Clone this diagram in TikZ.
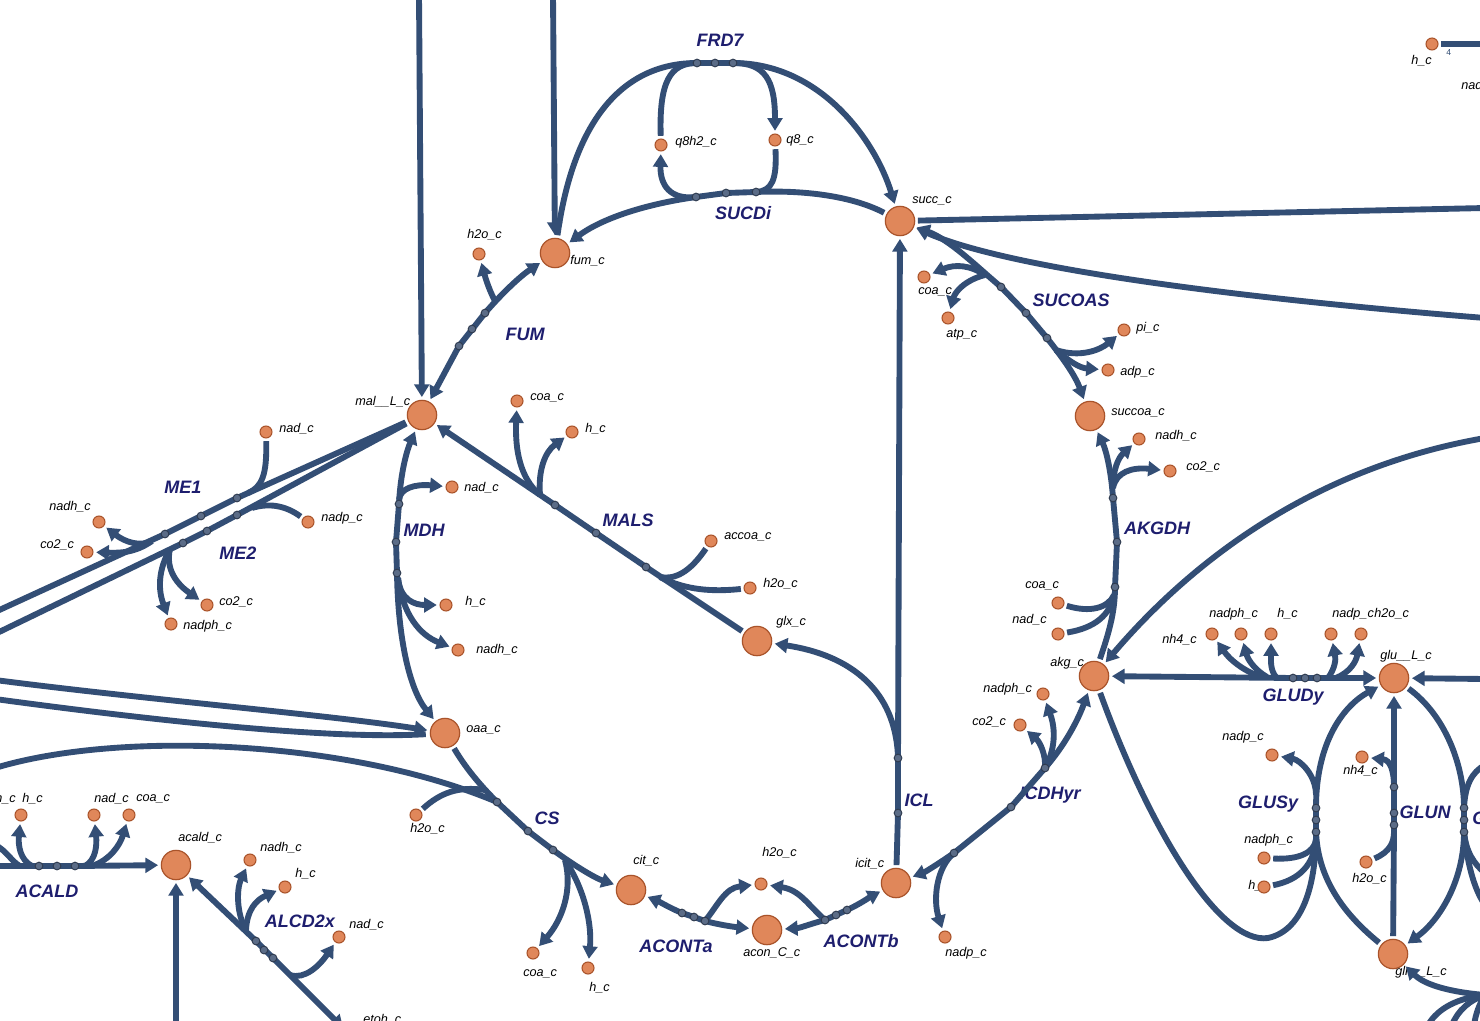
\documentclass[tikz,border=0pt]{standalone}
\usepackage{fontspec}
\setmainfont{Liberation Sans}
\usetikzlibrary{arrows.meta}
\definecolor{ln}{HTML}{334E75}
\definecolor{mf}{HTML}{E0875A}
\definecolor{md}{HTML}{A9532A}
\definecolor{rc}{HTML}{1E1E6E}
\definecolor{mkf}{HTML}{5B6C87}
\definecolor{mkd}{HTML}{2E3A4E}
\pgfdeclarelayer{labs}
\pgfdeclarelayer{lines}
\pgfsetlayers{labs,lines,main}
\begin{document}
\begin{tikzpicture}[x=0.75pt,y=-0.75pt,
  met/.style={circle,fill=mf,draw=md,line width=0.9pt,minimum size=22pt,inner sep=0pt},
  sm/.style={circle,fill=mf,draw=md,line width=0.8pt,minimum size=9pt,inner sep=0pt},
  mk/.style={circle,fill=mkf,draw=mkd,line width=0.7pt,minimum size=5.8pt,inner sep=0pt},
  ml/.style={font=\itshape\fontsize{9.5}{10}\selectfont,anchor=west,inner sep=0pt},
  rl/.style={font=\bfseries\itshape\fontsize{13.5}{14}\selectfont,text=rc,inner sep=0pt},
  rx/.style={draw=ln,line width=4.4pt},
  ar/.style={-{Triangle[length=9.5pt,width=11pt]},shorten >=2pt},
  rs/.style={shorten <=2pt}]
\useasboundingbox (0,0) rectangle (1480,1020);
% ---------------- metabolites ----------------
\node[met] (fum) at (555,253) {};
\node[met] (succ) at (900,221) {};
\node[met] (mal) at (422,415) {};
\node[met] (glx) at (757,641) {};
\node[met] (oaa) at (445,733) {};
\node[met] (cit) at (631,890) {};
\node[met] (acon) at (767,930) {};
\node[met] (icit) at (896,883) {};
\node[met] (akg) at (1094,676) {};
\node[met] (succoa) at (1090,416) {};
\node[met] (glu) at (1394,678) {};
\node[met] (gln) at (1393,954) {};
\node[met] (acald) at (176,865) {};
\node[sm] (h2oA) at (479,254) {};
\node[sm] (q8h2) at (661,145) {};
\node[sm] (q8) at (775,140) {};
\node[sm] (coaS) at (924,277) {};
\node[sm] (atp) at (948,318) {};
\node[sm] (pi) at (1124,330) {};
\node[sm] (adp) at (1108,370) {};
\node[sm] (nadhK) at (1139,439) {};
\node[sm] (co2K) at (1170,471) {};
\node[sm] (coaK) at (1058,603) {};
\node[sm] (nadK) at (1058,634) {};
\node[sm] (nadphI) at (1043,694) {};
\node[sm] (co2I) at (1020,725) {};
\node[sm] (nadpI) at (945,937) {};
\node[sm] (h2oB) at (761,884) {};
\node[sm] (coaC) at (533,953) {};
\node[sm] (hC) at (588,968) {};
\node[sm] (h2oC) at (416,815) {};
\node[sm] (coaM) at (517,401) {};
\node[sm] (hM) at (572,432) {};
\node[sm] (accoa) at (711,541) {};
\node[sm] (h2oM) at (750,588) {};
\node[sm] (nadD) at (452,487) {};
\node[sm] (hD) at (446,605) {};
\node[sm] (nadhD) at (458,650) {};
\node[sm] (nadE) at (266,432) {};
\node[sm] (nadhE) at (99,522) {};
\node[sm] (co2E) at (87,552) {};
\node[sm] (nadpE) at (308,522) {};
\node[sm] (co2F) at (207,605) {};
\node[sm] (nadphF) at (171,624) {};
\node[sm] (nh4G) at (1212,634) {};
\node[sm] (nadphG) at (1241,634) {};
\node[sm] (hG) at (1271,634) {};
\node[sm] (nadpG) at (1331,634) {};
\node[sm] (h2oG) at (1361,634) {};
\node[sm] (nadpS) at (1272,755) {};
\node[sm] (nadphS) at (1264,858) {};
\node[sm] (hS) at (1264,887) {};
\node[sm] (nh4N) at (1362,757) {};
\node[sm] (h2oN) at (1366,862) {};
\node[sm] (hA) at (21,815) {};
\node[sm] (nadA) at (94,815) {};
\node[sm] (coaA) at (129,815) {};
\node[sm] (nadhL) at (250,860) {};
\node[sm] (hL) at (285,887) {};
\node[sm] (nadL) at (339,937) {};
\node[sm] (hTR) at (1432,44) {};
% ---------------- markers ----------------
\node[mk] (f1) at (697,63) {}; \node[mk] (f2) at (715,63) {}; \node[mk] (f3) at (733,63) {};
\node[mk] (s1) at (696,197) {}; \node[mk] (s2) at (726,193) {}; \node[mk] (s3) at (756,192) {};
\node[mk] (fu1) at (459,346) {}; \node[mk] (fu2) at (472,329) {}; \node[mk] (fu3) at (485,313) {};
\node[mk] (u1) at (1001,287) {}; \node[mk] (u2) at (1026,313) {}; \node[mk] (u3) at (1047,338) {};
\node[mk] (k1) at (1113,498) {}; \node[mk] (k2) at (1117,542) {}; \node[mk] (k3) at (1115,587) {};
\node[mk] (d1) at (954,853) {}; \node[mk] (d2) at (1011,807) {}; \node[mk] (d3) at (1045,768) {};
\node[mk] (i1) at (898,758) {}; \node[mk] (i2) at (898,813) {};
\node[mk] (gd1) at (1293,678) {}; \node[mk] (gd2) at (1305,678) {}; \node[mk] (gd3) at (1317,678) {};
\node[mk] (ss1) at (1316,808) {}; \node[mk] (ss2) at (1316,820) {}; \node[mk] (ss3) at (1316,832) {};
\node[mk] (n1) at (1394,787) {}; \node[mk] (n2) at (1394,813) {}; \node[mk] (n3) at (1394,825) {};
\node[mk] (q1) at (1464,808) {}; \node[mk] (q2) at (1464,820) {}; \node[mk] (q3) at (1464,832) {};
\node[mk] (a1) at (682,913) {}; \node[mk] (a2) at (694,917) {}; \node[mk] (a3) at (705,921) {};
\node[mk] (b1) at (825,920) {}; \node[mk] (b2) at (836,915) {}; \node[mk] (b3) at (847,910) {};
\node[mk] (c1) at (497,802) {}; \node[mk] (c2) at (528,831) {}; \node[mk] (c3) at (553,850) {};
\node[mk] (ma1) at (555,505) {}; \node[mk] (ma2) at (596,533) {}; \node[mk] (ma3) at (646,567) {};
\node[mk] (md1) at (399,504) {}; \node[mk] (md2) at (396,542) {}; \node[mk] (md3) at (397,573) {};
\node[mk] (e1) at (237,498) {}; \node[mk] (e2) at (201,516) {}; \node[mk] (e3) at (165,534) {};
\node[mk] (g1) at (237,515) {}; \node[mk] (g2) at (207,531) {}; \node[mk] (g3) at (183,543) {};
\node[mk] (ac1) at (39,866) {}; \node[mk] (ac2) at (57,866) {}; \node[mk] (ac3) at (75,866) {};
\node[mk] (l1) at (256,941) {}; \node[mk] (l2) at (264,950) {}; \node[mk] (l3) at (273,958) {};
% ---------------- free ends and junctions ----------------
\coordinate (T1) at (419,-5); \coordinate (T2) at (553,-5);
\coordinate (W1) at (-5,612); \coordinate (W2) at (-5,634);
\coordinate (W3) at (-5,680); \coordinate (W4) at (-5,699);
\coordinate (W5) at (-5,768); \coordinate (W6) at (-5,866); \coordinate (W7) at (-5,845);
\coordinate (E1) at (1485,438); \coordinate (E2) at (1485,208); \coordinate (E3) at (1485,318);
\coordinate (E4) at (1485,679); \coordinate (E5) at (1485,765); \coordinate (E6) at (1485,873);
\coordinate (E7) at (1485,905); \coordinate (E8) at (1485,995); \coordinate (E9) at (1485,44);
\coordinate (B1) at (1428,1025); \coordinate (B2) at (1452,1025); \coordinate (B5) at (1474,1025);
\coordinate (B3) at (176,1025); \coordinate (B4) at (345,1030);
\coordinate (jF) at (496,303);
\coordinate (jM1) at (540,495); \coordinate (jM2) at (660,577);
\coordinate (jD1) at (399,500); \coordinate (jD2) at (398,578);
\coordinate (jE1) at (248,493); \coordinate (jE2) at (152,541);
\coordinate (jG1) at (252,508); \coordinate (jG2) at (170,549);
\coordinate (jC1) at (485,790); \coordinate (jC2) at (565,860);
\coordinate (jK1) at (1114,595); \coordinate (jK2) at (1113,488);
\coordinate (jU1) at (985,275); \coordinate (jU2) at (1056,350);
\coordinate (jG3) at (1262,677); \coordinate (jG3b) at (1267,677); \coordinate (jG3c) at (1276,677);
\coordinate (jG4) at (1328,678); \coordinate (jG4b) at (1336,678);
\coordinate (jS0) at (1268,938); \coordinate (jS1) at (1316,795); \coordinate (jS2) at (1316,840);
\coordinate (jN1) at (1394,832);
\coordinate (jA0) at (20,866); \coordinate (jA1) at (32,866); \coordinate (jA2) at (85,866); \coordinate (jA3) at (92,866);
\coordinate (jL1) at (246,930); \coordinate (jL2) at (290,975);
% ---------------- labels ----------------
\begin{pgfonlayer}{labs}
\fill[white] (0,0) rectangle (1480,1020);
\node[rl] (rFRD) at (720,40) {FRD7};
\node[rl] (rSUCD) at (743,213) {SUCDi};
\node[rl] (rFUM) at (525,334) {FUM};
\node[rl] (rSUCOAS) at (1071,300) {SUCOAS};
\node[rl] (rAKGDH) at (1157,528) {AKGDH};
\node[rl] (rME1) at (183,487) {ME1};
\node[rl] (rME2) at (238,553) {ME2};
\node[rl] (rMDH) at (424,530) {MDH};
\node[rl] (rMALS) at (628,520) {MALS};
\node[rl] (rCS) at (547,818) {CS};
\node[rl] (rACa) at (676,946) {ACONTa};
\node[rl] (rACb) at (861,941) {ACONTb};
\node[rl] (rICL) at (919,800) {ICL};
\node[rl] (rICD) at (1050,795) {ICDHyr};
\node[rl] (rGLUDy) at (1293,697) {GLUDy};
\node[rl] (rGLUSy) at (1268,804) {GLUSy};
\node[rl] (rGLUN) at (1425,812) {GLUN};
\node[rl,anchor=west] (rGLNS) at (1472,818) {GLNS};
\node[rl] (rACALD) at (47,891) {ACALD};
\node[rl] (rALCD) at (300,921) {ALCD2x};
\node[ml] (t1) at (570,261) {fum\_c};
\node[ml] (t2) at (912,201) {succ\_c};
\node[ml] (t3) at (355,402) {mal\_\_L\_c};
\node[ml] (t4) at (467,235) {h2o\_c};
\node[ml] (t5) at (675,142) {q8h2\_c};
\node[ml] (t6) at (786,140) {q8\_c};
\node[ml] (t7) at (918,292) {coa\_c};
\node[ml] (t8) at (946,335) {atp\_c};
\node[ml] (t9) at (1136,328) {pi\_c};
\node[ml] (t10) at (1120,372) {adp\_c};
\node[ml] (t11) at (1111,413) {succoa\_c};
\node[ml] (t12) at (1155,436) {nadh\_c};
\node[ml] (t13) at (1186,467) {co2\_c};
\node[ml] (t14) at (1025,586) {coa\_c};
\node[ml] (t15) at (1012,620) {nad\_c};
\node[ml] (t16) at (1050,663) {akg\_c};
\node[ml] (t17) at (983,689) {nadph\_c};
\node[ml] (t18) at (972,722) {co2\_c};
\node[ml] (t19) at (945,953) {nadp\_c};
\node[ml] (t20) at (1162,640) {nh4\_c};
\node[ml] (t21) at (1209,614) {nadph\_c};
\node[ml] (t22) at (1277,614) {h\_c};
\node[ml] (t23) at (1332,614) {nadp\_c};
\node[ml] (t23b) at (t23.east) {h2o\_c};
\node[ml] (t24) at (1380,656) {glu\_\_L\_c};
\node[ml] (t25) at (1222,737) {nadp\_c};
\node[ml] (t26) at (1244,840) {nadph\_c};
\node[ml] (t27) at (1248,886) {h\_c};
\node[ml] (t28) at (1395,972) {gln\_\_L\_c};
\node[ml] (t29) at (1343,771) {nh4\_c};
\node[ml] (t30) at (1352,879) {h2o\_c};
\node[ml] (t31) at (855,864) {icit\_c};
\node[ml] (t32) at (762,853) {h2o\_c};
\node[ml] (t33) at (743,953) {acon\_C\_c};
\node[ml] (t34) at (633,861) {cit\_c};
\node[ml] (t35) at (523,974) {coa\_c};
\node[ml] (t36) at (589,988) {h\_c};
\node[ml] (t37) at (410,829) {h2o\_c};
\node[ml] (t38) at (466,730) {oaa\_c};
\node[ml] (t39) at (776,622) {glx\_c};
\node[ml] (t40) at (530,398) {coa\_c};
\node[ml] (t41) at (585,429) {h\_c};
\node[ml] (t42) at (724,537) {accoa\_c};
\node[ml] (t43) at (763,584) {h2o\_c};
\node[ml] (t44) at (464,488) {nad\_c};
\node[ml] (t45) at (465,602) {h\_c};
\node[ml] (t46) at (476,650) {nadh\_c};
\node[ml] (t47) at (279,429) {nad\_c};
\node[ml] (t48) at (49,507) {nadh\_c};
\node[ml] (t49) at (40,545) {co2\_c};
\node[ml] (t50) at (321,518) {nadp\_c};
\node[ml] (t51) at (219,602) {co2\_c};
\node[ml] (t52) at (183,626) {nadph\_c};
\node[ml,anchor=east] (t53) at (16,799) {nadh\_c};
\node[ml] (t54) at (22,799) {h\_c};
\node[ml] (t55) at (94,799) {nad\_c};
\node[ml] (t56) at (136,799) {coa\_c};
\node[ml] (t57) at (178,838) {acald\_c};
\node[ml] (t58) at (260,848) {nadh\_c};
\node[ml] (t59) at (295,874) {h\_c};
\node[ml] (t60) at (349,925) {nad\_c};
\node[ml] (t61) at (363,1020) {etoh\_c};
\node[ml] (t62) at (1411,61) {h\_c};
\node[ml] (t63) at (1461,86) {nadh\_c};
\node[anchor=west,inner sep=0pt,font=\fontsize{6.5}{7}\selectfont,text=ln] (t64) at (1446,53) {4};
\end{pgfonlayer}
% ---------------- connectors ----------------
\begin{pgfonlayer}{lines}
% inflows from the top
\draw[rx,ar] (T1) -- (mal);
\draw[rx,ar] (T2) -- (fum);
% FRD7
\draw[rx,rs] (fum) .. controls (575,110) and (630,63) .. (f1.center) -- (f3.center);
\draw[rx,ar] (f3.center) .. controls (820,63) and (875,140) .. (succ);
\draw[rx,rs] (q8h2) .. controls (659,82) and (670,63) .. (f1.center);
\draw[rx,ar] (f3.center) .. controls (765,63) and (775,80) .. (q8);
% SUCDi
\draw[rx,rs] (succ) .. controls (850,195) and (800,190) .. (s3.center) -- (s2.center) -- (s1.center);
\draw[rx,ar] (s1.center) .. controls (640,205) and (600,220) .. (fum);
\draw[rx,rs] (q8) .. controls (777,180) and (772,191) .. (s3.center);
\draw[rx,ar] (s1.center) .. controls (670,200) and (660,185) .. (q8h2);
% FUM
\draw[rx,ar] (fu1.center) -- (mal);
\draw[rx] (fu1.center) -- (fu3.center);
\draw[rx,ar] (fu3.center) .. controls (505,290) and (522,275) .. (fum);
\draw[rx,ar] (jF) .. controls (490,292) and (486,280) .. (h2oA);
% MALS
\draw[rx,ar] (ma1.center) -- (mal);
\draw[rx] (ma1.center) -- (ma2.center) -- (ma3.center);
\draw[rx,rs] (glx) -- (ma3.center);
\draw[rx,ar] (jM1) .. controls (520,478) and (515,450) .. (coaM);
\draw[rx,ar] (jM1) .. controls (538,470) and (545,452) .. (hM);
\draw[rx,rs] (accoa) .. controls (690,572) and (675,580) .. (jM2);
\draw[rx,rs] (h2oM) .. controls (712,592) and (685,590) .. (jM2);
% MDH
\draw[rx,ar] (md1.center) .. controls (400,480) and (405,455) .. (mal);
\draw[rx] (md1.center) -- (md2.center) -- (md3.center);
\draw[rx,ar] (md3.center) .. controls (398,640) and (410,690) .. (oaa);
\draw[rx,ar] (jD1) .. controls (400,488) and (415,484) .. (nadD);
\draw[rx,ar] (jD2) .. controls (400,600) and (415,605) .. (hD);
\draw[rx,ar] (jD2) .. controls (403,615) and (420,635) .. (nadhD);
% ME1
\draw[rx,rs] (mal) -- (e1.center) -- (e2.center) -- (e3.center) -- (W1);
\draw[rx,rs] (nadE) .. controls (267,475) and (262,487) .. (jE1);
\draw[rx,ar] (jE2) .. controls (140,547) and (125,542) .. (nadhE);
\draw[rx,ar] (jE2) .. controls (135,553) and (120,553) .. (co2E);
% ME2
\draw[rx,rs] (mal) -- (g1.center) -- (g2.center) -- (g3.center) -- (W2);
\draw[rx,rs] (nadpE) .. controls (285,505) and (268,503) .. (jG1);
\draw[rx,ar] (jG2) .. controls (165,570) and (178,585) .. (co2F);
\draw[rx,ar] (jG2) .. controls (158,570) and (158,590) .. (nadphF);
% inflows to oaa from the left
\draw[rx,ar] (W3) .. controls (150,700) and (330,715) .. (oaa);
\draw[rx,shorten >=3pt] (W4) .. controls (150,720) and (330,740) .. (oaa);
% CS
\draw[rx,rs] (oaa) .. controls (468,772) and (485,790) .. (c1.center);
\draw[rx] (c1.center) -- (c2.center) -- (c3.center);
\draw[rx,ar] (c3.center) .. controls (575,866) and (595,878) .. (cit);
\draw[rx] (W5) .. controls (120,730) and (350,740) .. (c1.center);
\draw[rx,rs] (h2oC) .. controls (440,793) and (458,786) .. (jC1);
\draw[rx,ar] (jC2) .. controls (573,890) and (562,920) .. (coaC);
\draw[rx,ar] (jC2) .. controls (585,890) and (592,925) .. (hC);
% ACONTa
\draw[rx,ar] (a1.center) .. controls (670,908) and (660,902) .. (cit);
\draw[rx] (a1.center) -- (a2.center) -- (a3.center);
\draw[rx,ar] (a3.center) .. controls (720,925) and (735,927) .. (acon);
\draw[rx,ar] (a3.center) .. controls (718,905) and (725,888) .. (h2oB);
% ACONTb
\draw[rx,ar] (b1.center) .. controls (810,924) and (800,928) .. (acon);
\draw[rx] (b1.center) -- (b2.center) -- (b3.center);
\draw[rx,ar] (b3.center) .. controls (860,904) and (870,897) .. (icit);
\draw[rx,ar] (b1.center) .. controls (808,905) and (800,890) .. (h2oB);
% ICL
\draw[rx,rs] (icit) -- (i2.center) -- (i1.center);
\draw[rx,ar] (i1.center) -- (succ);
\draw[rx,ar] (i1.center) .. controls (896,690) and (850,655) .. (glx);
% ICDHyr
\draw[rx,ar] (d1.center) .. controls (935,866) and (925,872) .. (icit);
\draw[rx] (d1.center) -- (d2.center) -- (d3.center);
\draw[rx,ar] (d3.center) .. controls (1065,745) and (1078,720) .. (akg);
\draw[rx,ar] (d1.center) .. controls (936,868) and (933,900) .. (nadpI);
\draw[rx,ar] (d3.center) .. controls (1055,750) and (1056,730) .. (nadphI);
\draw[rx,ar] (d3.center) .. controls (1046,755) and (1040,742) .. (co2I);
% AKGDH
\draw[rx,rs] (akg) .. controls (1110,630) and (1115,610) .. (k3.center);
\draw[rx] (k3.center) -- (k2.center) -- (k1.center);
\draw[rx,ar] (k1.center) .. controls (1111,470) and (1106,450) .. (succoa);
\draw[rx,rs] (coaK) .. controls (1090,613) and (1108,608) .. (jK1);
\draw[rx,rs] (nadK) .. controls (1095,628) and (1110,615) .. (jK1);
\draw[rx,ar] (jK2) .. controls (1113,470) and (1118,458) .. (nadhK);
\draw[rx,ar] (jK2) .. controls (1116,472) and (1132,467) .. (co2K);
\draw[rx,ar] (E1) .. controls (1300,470) and (1180,575) .. (akg);
% SUCOAS
\draw[rx,ar] (u1.center) .. controls (975,265) and (950,240) .. (succ);
\draw[rx] (u1.center) -- (u2.center) -- (u3.center);
\draw[rx,ar] (u3.center) .. controls (1062,357) and (1075,375) .. (succoa);
\draw[rx,ar] (jU1) .. controls (970,265) and (955,264) .. (coaS);
\draw[rx,ar] (jU1) .. controls (965,280) and (955,292) .. (atp);
\draw[rx,ar] (jU2) .. controls (1080,358) and (1100,350) .. (pi);
\draw[rx,ar] (jU2) .. controls (1070,362) and (1080,368) .. (adp);
% flows to the right of succ
\draw[rx,rs] (succ) -- (E2);
\draw[rx,ar] (E3) .. controls (1200,295) and (1000,265) .. (succ);
% GLUDy
\draw[rx,ar] (gd1.center) -- (akg);
\draw[rx] (gd1.center) -- (gd3.center);
\draw[rx,ar] (gd3.center) -- (glu);
\draw[rx,ar] (jG3) .. controls (1245,672) and (1230,660) .. (nh4G);
\draw[rx,ar] (jG3b) .. controls (1255,670) and (1248,660) .. (nadphG);
\draw[rx,ar] (jG3c) .. controls (1270,670) and (1271,660) .. (hG);
\draw[rx,ar] (jG4) .. controls (1335,668) and (1336,660) .. (nadpG);
\draw[rx,ar] (jG4b) .. controls (1350,672) and (1356,662) .. (h2oG);
\draw[rx,ar] (E4) -- (glu);
% GLUSy
\draw[rx,rs] (akg) .. controls (1150,830) and (1220,945) .. (jS0) .. controls (1305,930) and (1316,880) .. (ss3.center);
\draw[rx,rs] (gln) .. controls (1345,915) and (1318,880) .. (ss3.center);
\draw[rx] (ss3.center) -- (ss1.center);
\draw[rx,ar] (ss1.center) .. controls (1316,740) and (1345,705) .. (glu);
\draw[rx,ar] (jS1) .. controls (1316,775) and (1300,760) .. (nadpS);
\draw[rx,rs] (nadphS) .. controls (1300,860) and (1314,852) .. (jS2);
\draw[rx,rs] (hS) .. controls (1300,880) and (1314,864) .. (jS2);
% GLUN
\draw[rx,rs] (gln) -- (n3.center);
\draw[rx] (n3.center) -- (n1.center);
\draw[rx,ar] (n1.center) -- (glu);
\draw[rx,ar] (n1.center) .. controls (1394,770) and (1390,760) .. (nh4N);
\draw[rx,rs] (h2oN) .. controls (1390,852) and (1394,842) .. (jN1);
% GLNS (partly shown)
\draw[rx,rs] (glu) .. controls (1445,715) and (1464,765) .. (q1.center);
\draw[rx] (q1.center) -- (q3.center);
\draw[rx,ar] (q3.center) .. controls (1464,880) and (1440,920) .. (gln);
\draw[rx] (q1.center) .. controls (1465,785) and (1472,772) .. (E5);
\draw[rx] (q3.center) .. controls (1466,852) and (1474,864) .. (E6);
\draw[rx] (q3.center) .. controls (1468,870) and (1476,892) .. (E7);
% below gln
\draw[rx,ar] (E8) .. controls (1450,992) and (1425,985) .. (gln);
\draw[rx] (E8) .. controls (1458,998) and (1438,1008) .. (B1);
\draw[rx] (E8) .. controls (1470,1000) and (1458,1010) .. (B2);
\draw[rx] (E8) .. controls (1480,1003) and (1476,1012) .. (B5);
% ACALD
\draw[rx] (W6) -- (ac1.center) -- (ac3.center);
\draw[rx,ar] (ac3.center) -- (acald);
\draw[rx] (W7) .. controls (6,850) and (12,862) .. (jA0);
\draw[rx,ar] (jA1) .. controls (20,860) and (18,845) .. (hA);
\draw[rx,ar] (jA2) .. controls (96,860) and (97,845) .. (nadA);
\draw[rx,ar] (jA3) .. controls (110,860) and (120,845) .. (coaA);
\draw[rx,ar] (B3) -- (acald);
% ALCD2x
\draw[rx,ar] (l1.center) -- (acald);
\draw[rx] (l1.center) -- (l3.center);
\draw[rx,ar] (l3.center) -- (B4);
\draw[rx,ar] (jL1) .. controls (237,915) and (236,890) .. (nadhL);
\draw[rx,ar] (jL1) .. controls (247,910) and (256,900) .. (hL);
\draw[rx,ar] (jL2) .. controls (305,980) and (320,965) .. (nadL);
% top right
\draw[rx,rs] (hTR) -- (E9);
\end{pgfonlayer}
\end{tikzpicture}
\end{document}
